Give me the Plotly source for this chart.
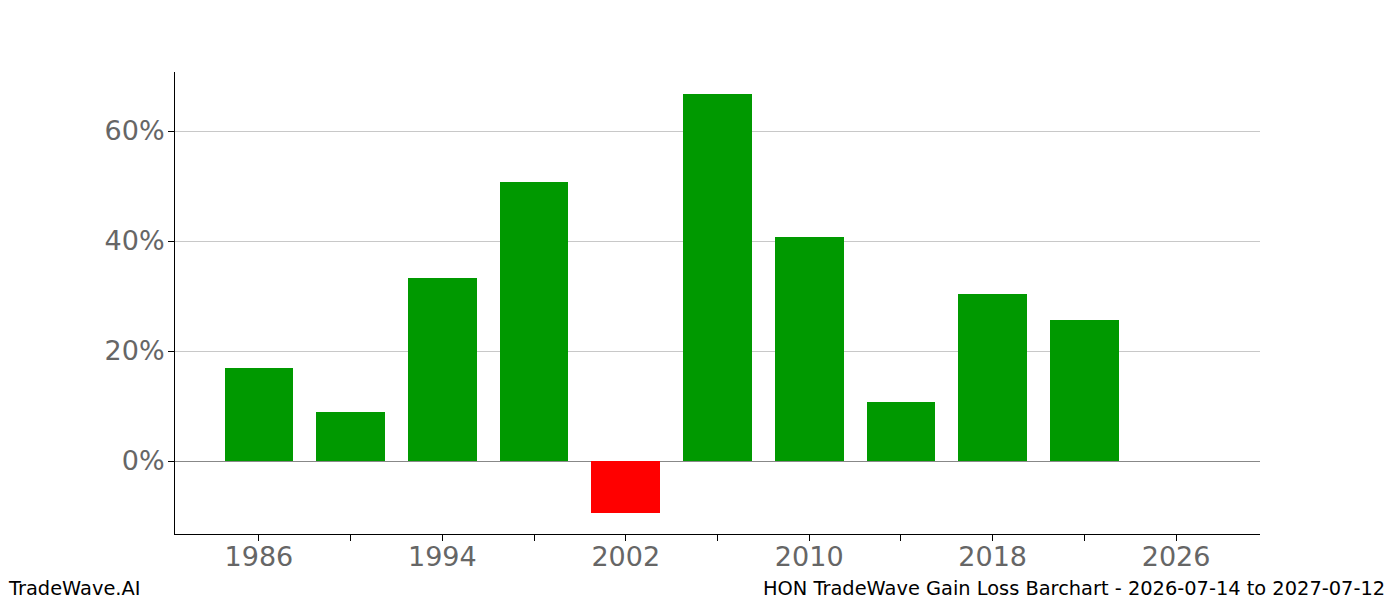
import plotly.graph_objects as go

years = [1986, 1990, 1994, 1998, 2002, 2006, 2010, 2014, 2018, 2022]
gains = [16.9, 8.9, 33.2, 50.8, -9.4, 66.8, 40.8, 10.7, 30.4, 25.6]
tick_years = [1986, 1990, 1994, 1998, 2002, 2006, 2010, 2014, 2018, 2022, 2026]
tick_labels = ["1986", "", "1994", "", "2002", "", "2010", "", "2018", "", "2026"]
y_ticks = [0, 20, 40, 60]
y_labels = ["0%", "20%", "40%", "60%"]

colors = ["#009900" if g >= 0 else "#ff0000" for g in gains]

W, H = 1400, 600
L, R, T, B = 175, 140, 72, 66
pw, ph = W - L - R, H - T - B

fig = go.Figure(go.Bar(x=years, y=gains, width=3, marker=dict(color=colors, line=dict(width=0))))

fig.update_layout(
    width=W, height=H,
    margin=dict(l=L, r=R, t=T, b=B, pad=0),
    plot_bgcolor="white", paper_bgcolor="white",
    font=dict(family="DejaVu Sans", color="#666666"),
    showlegend=False,
    bargap=0,
)
fig.update_xaxes(
    range=[1982.34, 2029.66], tickvals=tick_years, ticktext=tick_labels,
    showline=True, linecolor="black", linewidth=1, ticks="outside", ticklen=6,
    tickcolor="black", tickfont=dict(size=27, color="#666666"), showgrid=False, zeroline=False,
    ticklabelstandoff=-7,
)
fig.update_yaxes(
    range=[-13.27, 70.73], tickvals=y_ticks, ticktext=y_labels,
    showline=True, linecolor="black", linewidth=1, ticks="outside", ticklen=6,
    tickcolor="black", tickfont=dict(size=27, color="#666666"),
    showgrid=True, gridcolor="#c8c8c8", gridwidth=1,
    zeroline=True, zerolinecolor="#888888", zerolinewidth=1,
    ticklabelstandoff=-2,
)

fig.add_annotation(
    text="TradeWave.AI", xref="paper", yref="paper",
    x=(6 - L) / pw, y=-(588 - (T + ph)) / ph, xanchor="left", yanchor="middle",
    showarrow=False, font=dict(size=19.4, color="black", family="DejaVu Sans"),
)
fig.add_annotation(
    text="HON TradeWave Gain Loss Barchart - 2026-07-14 to 2027-07-12", xref="paper", yref="paper",
    x=(1387 - L) / pw, y=-(588 - (T + ph)) / ph, xanchor="right", yanchor="middle",
    showarrow=False, font=dict(size=19.4, color="black", family="DejaVu Sans"),
)

fig.write_html("out.html")
